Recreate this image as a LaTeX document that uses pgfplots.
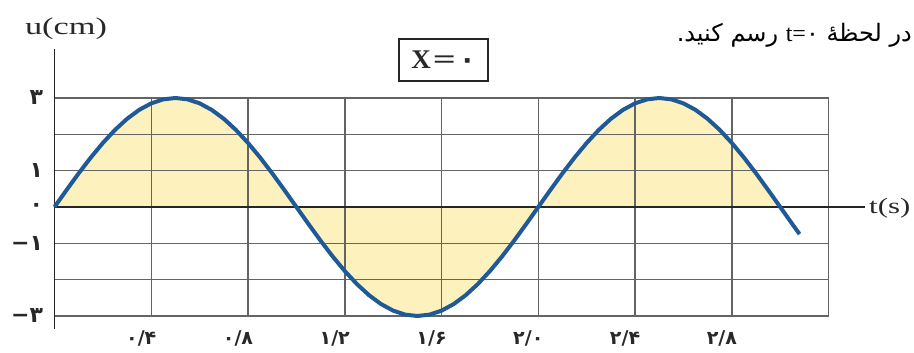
\documentclass[border=0pt]{standalone}
\usepackage{fontspec}
\usepackage{graphicx}
\usepackage{pgfplots}
\usepackage{pgfplotstable}
\pgfplotsset{compat=1.18}
\setmainfont{Liberation Serif}
\newfontfamily\pfont{DejaVu Sans}
\newfontfamily\arabicfont[Script=Arabic]{DejaVu Sans}
\TeXXeTstate=1
\definecolor{wave}{RGB}{31,90,150}
\definecolor{fillc}{RGB}{253,242,190}
\definecolor{gridc}{RGB}{100,100,100}
\definecolor{txt}{RGB}{40,40,40}

\pgfplotstableread{
t u
0.00 0
0.05 0.469
0.10 0.927
0.15 1.362
0.20 1.763
0.25 2.121
0.30 2.427
0.35 2.673
0.40 2.853
0.45 2.963
0.50 3.000
0.55 2.963
0.60 2.853
0.65 2.673
0.70 2.427
0.75 2.121
0.80 1.763
0.85 1.362
0.90 0.927
0.95 0.469
1.00 0
1.05 -0.469
1.10 -0.927
1.15 -1.362
1.20 -1.763
1.25 -2.121
1.30 -2.427
1.35 -2.673
1.40 -2.853
1.45 -2.963
1.50 -3.000
1.55 -2.963
1.60 -2.853
1.65 -2.673
1.70 -2.427
1.75 -2.121
1.80 -1.763
1.85 -1.362
1.90 -0.927
1.95 -0.469
2.00 0
2.05 0.469
2.10 0.927
2.15 1.362
2.20 1.763
2.25 2.121
2.30 2.427
2.35 2.673
2.40 2.853
2.45 2.963
2.50 3.000
2.55 2.963
2.60 2.853
2.65 2.673
2.70 2.427
2.75 2.121
2.80 1.763
2.85 1.362
2.90 0.927
2.95 0.469
3.00 0
3.05 -0.469
3.08 -0.746
}\wavedata

\begin{document}
\begin{tikzpicture}
\begin{axis}[
  at={(54.5pt,146pt)}, anchor=origin,
  x=241.9pt, y=36.33pt,
  xmin=0, xmax=3.2, ymin=-3, ymax=3,
  set layers,
  clip=false,
  axis line style={gridc, line width=1.5pt},
  xtick={0.4,0.8,1.2,1.6,2.0,2.4,2.8},
  xticklabels={۰/۴,۰/۸,۱/۲,۱/۶,۲/۰,۲/۴,۲/۸},
  ytick={-3,-1,0,1,3},
  yticklabels={−۳,−۱,۰,۱,۳},
  minor ytick={-2,2},
  major tick length=0pt,
  minor tick length=0pt,
  grid=both,
  major grid style={gridc, line width=1.5pt},
  minor grid style={gridc, line width=1.5pt},
  xticklabel style={font=\pfont\bfseries\fontsize{19}{19}\selectfont, text=txt, anchor=center, yshift=-22pt, xshift=-10pt},
  yticklabel style={font=\pfont\bfseries\fontsize{22}{22}\selectfont, text=txt, anchor=east, xshift=-8pt},
]
\addplot[on layer=axis background, fill=fillc, draw=none, restrict x to domain=0:3] table[x=t, y=u] {\wavedata} \closedcycle;
\draw[black!85, line width=1.6pt] (axis cs:0,-3.37) -- (axis cs:0,4.36);
\draw[black!85, line width=1.6pt] (axis cs:0,0) -- (axis cs:3.35,0);
\addplot[wave, line width=4pt] table[x=t, y=u] {\wavedata};
\end{axis}
\node[text=txt, font=\fontsize{24}{24}\selectfont] at (66pt,324pt) {\scalebox{1.43}[1]{u(cm)}};
\node[text=txt, font=\fontsize{22}{22}\selectfont, anchor=west, inner sep=0pt] at (869pt,145pt) {\scalebox{1.4}[1]{t(s)}};
\node[draw=black!85, line width=2pt, minimum width=89pt, minimum height=42pt, inner sep=0pt, text=txt] at (443.5pt,293pt)
  {\fontsize{27}{27}\selectfont\textbf{X}\hspace{2pt}\scalebox{1.5}[1]{\textbf{=}}\hspace{3pt}{\pfont\bfseries ۰}};
\node[anchor=base east, inner sep=0pt, text=black, font=\arabicfont\fontsize{24}{28}\selectfont] at (912pt,311pt)
  {\beginR در لحظهٔ \beginL{\rmfamily t=}۰\endL{} رسم کنید.\endR};
\pgfresetboundingbox
\path[use as bounding box] (0,0) rectangle (914pt,353pt);
\end{tikzpicture}
\end{document}
